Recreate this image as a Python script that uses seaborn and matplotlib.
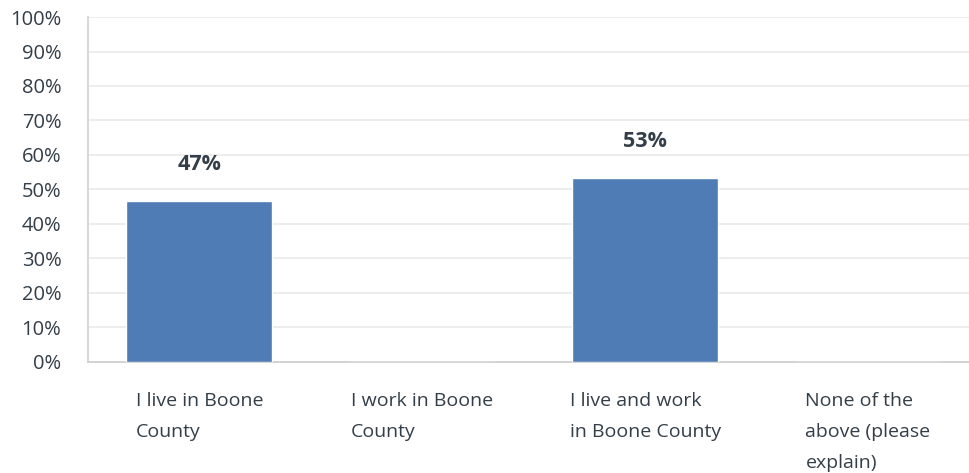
import matplotlib
matplotlib.use("Agg")
import matplotlib.pyplot as plt
import seaborn as sns
import pandas as pd

# Survey answers and share of respondents (%)
categories = ["I live in Boone\nCounty", "I work in Boone\nCounty",
              "I live and work\nin Boone County", "None of the\nabove (please\nexplain)"]
shares = [46.67, 0, 53.33, 0]
labels = ["47%", "", "53%", ""]
yticks = list(range(0, 101, 10))

df = pd.DataFrame({"answer": categories, "share": shares})

sns.set_theme(style="white")
plt.rcParams["font.family"] = ["Open Sans", "DejaVu Sans"]
text_col = "#333e48"

fig, ax = plt.subplots(figsize=(9.7, 4.73), dpi=100)
# plot area runs slightly past the right edge of the picture, as in the original
fig.subplots_adjust(left=0.0905, right=1.0098, top=0.964, bottom=0.235)

sns.barplot(data=df, x="answer", y="share", color="#4f7cb5", saturation=1,
            width=0.655, ax=ax, zorder=3)

ax.set_ylim(0, 100)
ax.set_yticks(yticks)
ax.set_yticklabels([f"{t}%" for t in yticks], color=text_col, fontsize=14.5)
ax.grid(axis="y", color="#ececec", linewidth=1.3, zorder=0)
ax.set_xlabel("")
ax.set_ylabel("")

ax.set_xticks(range(len(categories)))
ax.set_xticklabels(categories, color=text_col, fontsize=14, ma="left",
                   linespacing=1.9, va="top")
ax.tick_params(axis="x", length=0, pad=22)
ax.tick_params(axis="y", length=0, pad=19)

for side in ["top", "right"]:
    ax.spines[side].set_visible(False)
ax.spines["left"].set_color("#d4d4d4")
ax.spines["bottom"].set_color("#d0d0d0")
ax.spines["left"].set_linewidth(1.3)
ax.spines["bottom"].set_linewidth(1.3)

for i, (v, lab) in enumerate(zip(shares, labels)):
    if lab:
        ax.text(i, v + 10.7, lab, ha="center", va="center", fontsize=15.5,
                fontweight="bold", color=text_col)

fig.savefig("out.png", dpi=100)
